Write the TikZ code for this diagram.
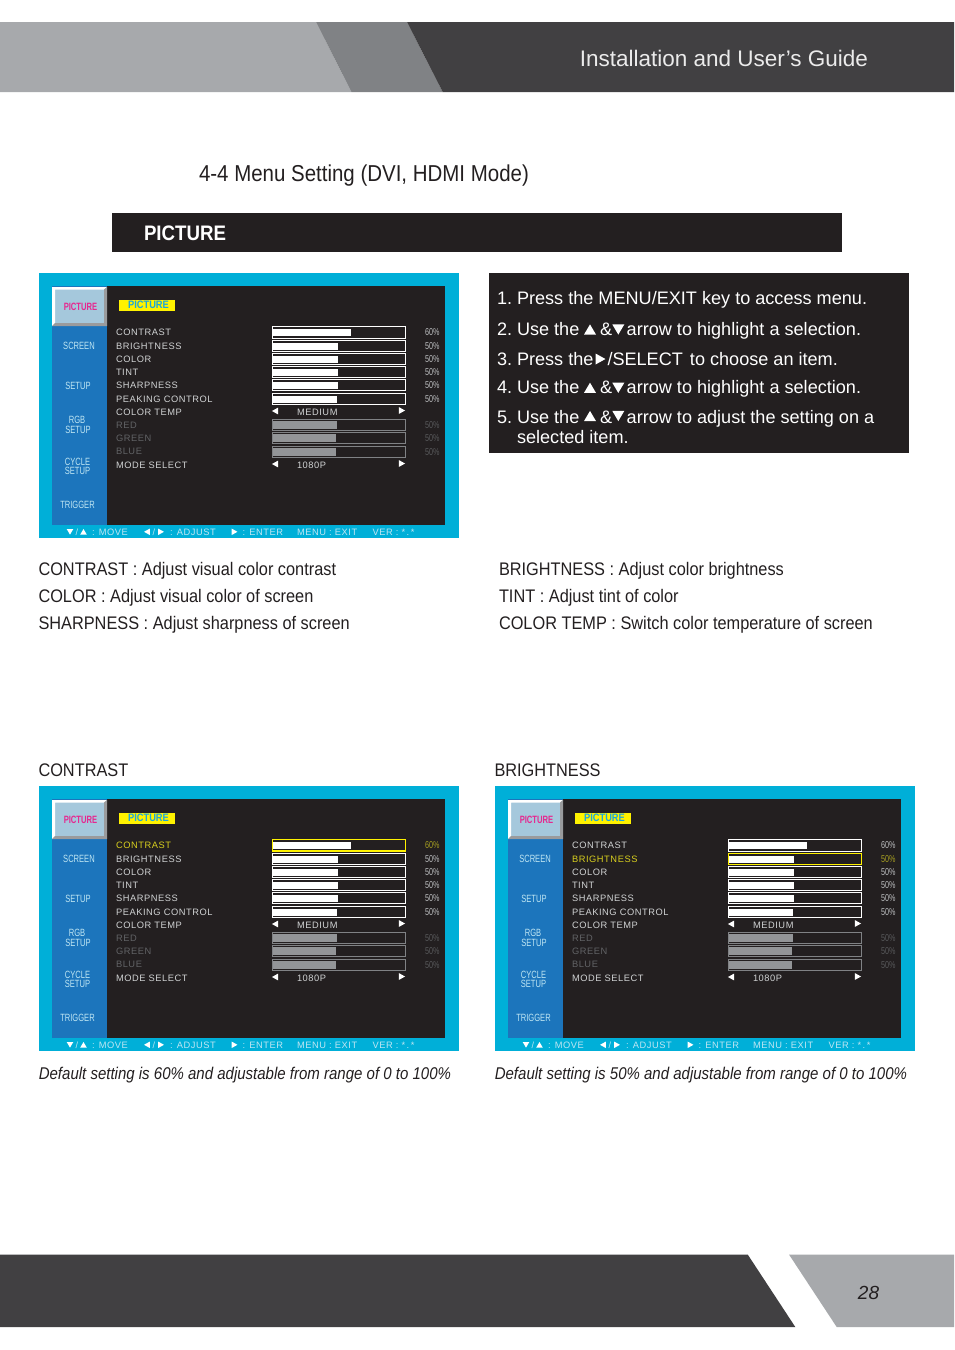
\documentclass[tikz,border=0pt]{standalone}
\usepackage{fontspec}
\setmainfont{Liberation Sans}
\newfontfamily\osdf[LetterSpace=6]{Liberation Sans}
\newfontfamily\narf[FakeStretch=0.72]{Liberation Sans}
\newfontfamily\yelf[FakeStretch=0.86]{Liberation Sans}
\newfontfamily\descf[FakeStretch=0.897]{Liberation Sans}
\newfontfamily\notef[FakeStretch=0.883]{Liberation Sans}
\newfontfamily\headf[FakeStretch=0.89]{Liberation Sans}
\definecolor{hdlight}{HTML}{A7A9AC}
\definecolor{hdmid}{HTML}{808285}
\definecolor{hddark}{HTML}{414042}
\definecolor{panel}{HTML}{231F20}
\definecolor{cyanbg}{HTML}{00AFD8}
\definecolor{sideblue}{HTML}{1C75BC}
\definecolor{btnblue}{HTML}{A5C8DC}
\definecolor{osdtext}{HTML}{D1D3D4}
\definecolor{osddim}{HTML}{626366}
\definecolor{pctcol}{HTML}{BCBEC0}
\definecolor{pctdim}{HTML}{58595B}
\definecolor{barDim}{HTML}{939598}
\definecolor{hlcol}{HTML}{D8CF1E}
\definecolor{hlpct}{HTML}{A8A020}
\definecolor{foot}{HTML}{BFE6F3}
\definecolor{pinktxt}{HTML}{E6278F}
\definecolor{yeltxt}{HTML}{1BA5DC}
\newcount\nc
\newcommand{\lab}[3][]{\global\advance\nc by 1\relax\node[txt,#1] (n\the\nc) at (#2) {#3};}
\newcommand{\tdn}[4][white]{\fill[#1] (#2-#4,#3-#4*.85) -- (#2+#4,#3-#4*.85) -- (#2,#3+#4*.85) -- cycle;}
\newcommand{\tup}[4][white]{\fill[#1] (#2-#4,#3+#4*.85) -- (#2+#4,#3+#4*.85) -- (#2,#3-#4*.85) -- cycle;}
\newcommand{\tlf}[4][white]{\fill[#1] (#2+#4*.9,#3-#4) -- (#2+#4*.9,#3+#4) -- (#2-#4*.9,#3) -- cycle;}
\newcommand{\trt}[4][white]{\fill[#1] (#2-#4*.9,#3-#4) -- (#2-#4*.9,#3+#4) -- (#2+#4*.9,#3) -- cycle;}
% \osd{dx}{dy}{highlighted row}
\newcommand{\osd}[3]{%
\begin{scope}[shift={(#1,#2)}]
\fill[cyanbg] (39,273) rectangle (458.5,538);
\fill[panel] (107,286) rectangle (445,525);
\fill[sideblue] (52,286) rectangle (107,525);
\fill[btnblue] (52,287) rectangle (107,326);
\fill[white] (52,287) -- (107,287) -- (104.5,289.5) -- (55,289.5) -- (55,323) -- (52,326) -- cycle;
\fill[hdmid!80] (107,287) -- (107,326) -- (52,326) -- (55,323) -- (104,323) -- (104,289.5) -- cycle;
\fill[yellow] (119,300) rectangle (175,311);
\lab[font=\yelf\bfseries\fontsize{10.8}{10.8}\selectfont,text=yeltxt]{148.5,305}{PICTURE}
\lab[font=\narf\bfseries\fontsize{10.6}{10.6}\selectfont,text=pinktxt]{80.5,306.5}{PICTURE}
\lab[font=\narf\fontsize{10.5}{10.5}\selectfont,text=foot]{79,345.5}{SCREEN}
\lab[font=\narf\fontsize{10.5}{10.5}\selectfont,text=foot]{78,385.5}{SETUP}
\lab[font=\narf\fontsize{10.5}{10.5}\selectfont,text=foot]{77,420}{RGB}
\lab[font=\narf\fontsize{10.5}{10.5}\selectfont,text=foot]{78,429.5}{SETUP}
\lab[font=\narf\fontsize{10.5}{10.5}\selectfont,text=foot]{77.5,461.5}{CYCLE}
\lab[font=\narf\fontsize{10.5}{10.5}\selectfont,text=foot]{77.5,470.5}{SETUP}
\lab[font=\narf\fontsize{10.5}{10.5}\selectfont,text=foot]{77.5,505}{TRIGGER}
\foreach \i/\y/\t in {1/332/CONTRAST,2/345.5/BRIGHTNESS,3/358.5/COLOR,4/371.5/TINT,5/385/SHARPNESS,6/398.5/PEAKING CONTROL,7/411.5/COLOR TEMP,12/464.5/MODE SELECT}{%
  \ifnum\i=#3\relax\def\cc{hlcol}\else\def\cc{osdtext}\fi
  \lab[anchor=base west,font=\osdf\fontsize{9.3}{9.3}\selectfont,text=\cc]{116,\y+3.8}{\t}}
\foreach \y/\t in {424.5/RED,437.5/GREEN,451/BLUE}{%
  \lab[anchor=base west,font=\osdf\fontsize{9.3}{9.3}\selectfont,text=osddim]{116,\y+3.8}{\t}}
\foreach \i/\a/\b/\w/\p in {1/326.5/338/351/60,2/340.3/351.7/338/50,3/353.3/364.7/338/50,4/366.3/377.7/338/50,5/379.3/390.7/338/50,6/393.3/404.7/337/50}{%
  \ifnum\i=#3\relax\def\cc{yellow}\def\tc{hlpct}\def\lw{1.25pt}\else\def\cc{white}\def\tc{pctcol}\def\lw{.95pt}\fi
  \draw[\cc,line width=\lw] (272.4,\a) rectangle (405.6,\b);
  \fill[white] (273,\a+2.2) rectangle (\w,\b-2);
  \lab[anchor=base east,font=\narf\fontsize{10}{10}\selectfont,text=\tc]{439.5,\a+9}{\p\%}}
\foreach \a/\b/\w in {419.3/430.7/337,432.3/443.7/336,446.3/457.7/336}{%
  \draw[hdmid,line width=.85pt] (272.4,\a) rectangle (405.6,\b);
  \fill[barDim] (273,\a+2) rectangle (\w,\b-1.6);
  \lab[anchor=base east,font=\narf\fontsize{10}{10}\selectfont,text=pctdim]{439.5,\a+9}{50\%}}
\tlf{275}{411}{3.4}\trt{402}{410.5}{3.4}
\tlf{275}{464}{3.4}\trt{402}{463.5}{3.4}
\lab[anchor=base west,font=\osdf\fontsize{9.3}{9.3}\selectfont,text=osdtext]{297,415.3}{MEDIUM}
\lab[anchor=base west,font=\osdf\fontsize{9.3}{9.3}\selectfont,text=osdtext]{297,468.3}{1080P}
\tdn{70}{531.8}{3.3}\tup{83.5}{531.8}{3.3}
\tlf{147}{531.8}{3.3}\trt{161}{531.8}{3.3}
\trt{234.5}{531.8}{3.3}
\lab[anchor=base,font=\fontsize{9}{9}\selectfont,text=foot]{76.8,535.3}{/}
\lab[anchor=base,font=\fontsize{9}{9}\selectfont,text=foot]{153.8,535.3}{/}
\lab[anchor=base west,font=\osdf\fontsize{9.3}{9.3}\selectfont,text=foot]{92,535.3}{: MOVE}
\lab[anchor=base west,font=\osdf\fontsize{9.3}{9.3}\selectfont,text=foot]{170,535.3}{: ADJUST}
\lab[anchor=base west,font=\osdf\fontsize{9.3}{9.3}\selectfont,text=foot]{242.5,535.3}{: ENTER}
\lab[anchor=base west,font=\osdf\fontsize{9.3}{9.3}\selectfont,text=foot]{297,535.3}{MENU : EXIT}
\lab[anchor=base west,font=\osdf\fontsize{9.3}{9.3}\selectfont,text=foot]{372.5,535.3}{VER : *\kern1.5pt.\kern1.5pt*}
\end{scope}}
\tikzset{txt/.style={inner sep=0pt,outer sep=0pt,align=left},
  instr/.style={txt,anchor=base west,text=white,font=\fontsize{18.1}{18.1}\selectfont},
  desc/.style={txt,anchor=base west,text=panel,font=\descf\fontsize{18.2}{18.2}\selectfont},
  note/.style={txt,anchor=base west,text=panel,font=\notef\itshape\fontsize{17}{17}\selectfont}}
\begin{document}
\begin{tikzpicture}[x=1pt,y=-1pt]
\useasboundingbox (0,0) rectangle (954,1350);
\fill[white] (0,0) rectangle (954,1350);
% header
\fill[hdlight] (0,22) -- (316,22) -- (351.5,92) -- (0,92) -- cycle;
\fill[hdmid] (316,22) -- (407,22) -- (442.7,92) -- (351.5,92) -- cycle;
\fill[hddark] (407,22) -- (954,22) -- (954,92) -- (442.7,92) -- cycle;
\lab[anchor=base east,font=\fontsize{22.5}{22.5}\selectfont,text=white!92!black]{868,66}{Installation and User's Guide}
\lab[anchor=base west,font=\headf\fontsize{23}{23}\selectfont,text=panel]{199,181}{4-4 Menu Setting (DVI, HDMI Mode)}
\fill[panel] (112,213) rectangle (842,252);
\lab[anchor=base west,font=\headf\bfseries\fontsize{21}{21}\selectfont,text=white]{144,240}{PICTURE}
% instruction box
\fill[panel] (489,273) rectangle (909,453);
\lab[instr]{497,304.3}{1.}
\lab[instr]{517,304.3}{Press the MENU/EXIT key to access menu.}
\lab[instr]{497,335}{2.}
\lab[instr]{517,335}{Use the}
\tup{590}{329.5}{6}
\lab[instr]{600,335}{\&}
\tdn{618.3}{329.5}{6}
\lab[instr]{626.7,335}{arrow to highlight a selection.}
\lab[instr]{497,365}{3.}
\lab[instr]{517,365}{Press the}
\trt{600.5}{359}{5.5}
\lab[instr]{607.5,365}{/SELECT\kern2pt{} to choose an item.}
\lab[instr]{497,393.5}{4.}
\lab[instr]{517,393.5}{Use the}
\tup{590}{387.8}{6}
\lab[instr]{600,393.5}{\&}
\tdn{618.3}{387.8}{6}
\lab[instr]{626.7,393.5}{arrow to highlight a selection.}
\lab[instr]{497,423}{5.}
\lab[instr]{517,423}{Use the}
\tup{590}{416}{6}
\lab[instr]{600,423}{\&}
\tdn{618.3}{416}{6}
\lab[instr]{626.7,423}{arrow to adjust the setting on a}
\lab[instr]{517,443.3}{selected item.}
% descriptions
\lab[desc]{38.5,575}{CONTRAST : Adjust visual color contrast}
\lab[desc]{38.5,602}{COLOR : Adjust visual color of screen}
\lab[desc]{38.5,629}{SHARPNESS : Adjust sharpness of screen}
\lab[desc]{499,575}{BRIGHTNESS : Adjust color brightness}
\lab[desc]{499,602}{TINT : Adjust tint of color}
\lab[desc]{499,629}{COLOR TEMP : Switch color temperature of screen}
\lab[desc]{38.5,776}{CONTRAST}
\lab[desc]{494.5,776}{BRIGHTNESS}
\lab[note]{38.8,1079}{Default setting is 60\% and adjustable from range of 0 to 100\%}
\lab[note]{494.8,1079}{Default setting is 50\% and adjustable from range of 0 to 100\%}
% panels
\osd{0}{0}{0}
\osd{0}{513}{1}
\osd{456}{513}{2}
% footer
\fill[hddark] (0,1254.5) -- (747.7,1254.5) -- (795.3,1327) -- (0,1327) -- cycle;
\fill[hdlight] (789,1254.5) -- (954,1254.5) -- (954,1327) -- (836.7,1327) -- cycle;
\lab[font=\itshape\fontsize{19}{19}\selectfont,text=panel]{868.5,1293}{28}
\end{tikzpicture}
\end{document}
